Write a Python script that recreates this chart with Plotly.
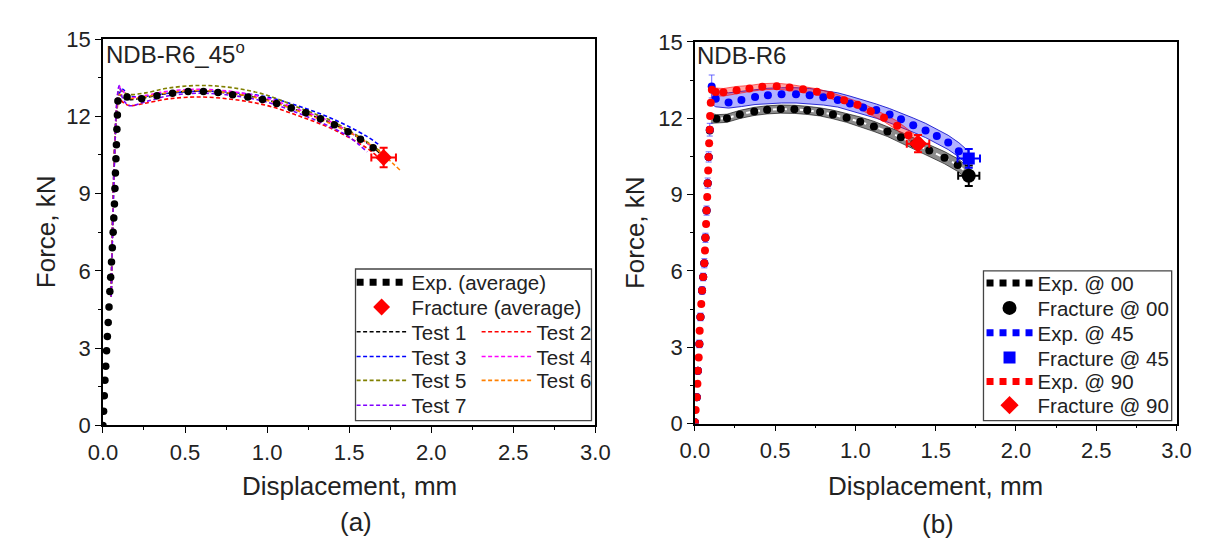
import plotly.graph_objects as go

W, H = 1205, 543
FONT = "Liberation Sans, Arial, sans-serif"

# ---------------- Panel (a) data ----------------
avg_a_x = [0.0, 0.004, 0.008, 0.012, 0.017, 0.022, 0.027, 0.032, 0.037, 0.042, 0.047, 0.052, 0.057, 0.062,
           0.066, 0.070, 0.073, 0.076, 0.079, 0.082, 0.085, 0.088, 0.091, 0.147, 0.236, 0.329, 0.424, 0.519,
           0.612, 0.701, 0.790, 0.883, 0.972, 1.058, 1.147, 1.236, 1.325, 1.410, 1.493, 1.569, 1.646]
avg_a_y = [0.0, 0.55, 1.15, 1.75, 2.3, 2.9, 3.45, 4.0, 4.6, 5.2, 5.75, 6.35, 6.9, 7.5,
           8.05, 8.6, 9.2, 9.8, 10.35, 10.9, 11.5, 12.05, 12.6, 12.75, 12.68, 12.8, 12.9, 12.96,
           12.96, 12.93, 12.84, 12.75, 12.65, 12.5, 12.32, 12.14, 11.91, 11.67, 11.4, 11.11, 10.78]

frac_a_x = [1.71]
frac_a_y = [10.4]
frac_a_ex = [0.075]
frac_a_ey = [0.38]

test_names = ["Test 1", "Test 2", "Test 3", "Test 4", "Test 5", "Test 6", "Test 7"]
test_colors = ["#000000", "#ff0000", "#0000ff", "#ff00ff", "#808000", "#ff8000", "#8000ff"]
test_x = [
    [0.05, 0.085, 0.10, 0.12, 0.16, 0.25, 0.40, 0.60, 0.80, 1.00, 1.20, 1.40, 1.60, 1.70],
    [0.05, 0.085, 0.10, 0.12, 0.16, 0.25, 0.40, 0.60, 0.80, 1.00, 1.20, 1.40, 1.60, 1.67],
    [0.05, 0.085, 0.10, 0.12, 0.16, 0.25, 0.40, 0.60, 0.80, 1.00, 1.20, 1.40, 1.60, 1.69],
    [0.05, 0.085, 0.10, 0.12, 0.16, 0.25, 0.40, 0.60, 0.80, 1.00, 1.20, 1.40, 1.60, 1.66],
    [0.05, 0.085, 0.10, 0.12, 0.16, 0.25, 0.40, 0.60, 0.80, 1.00, 1.20, 1.40, 1.60, 1.70],
    [0.05, 0.085, 0.10, 0.12, 0.16, 0.25, 0.40, 0.60, 0.80, 1.00, 1.20, 1.40, 1.60, 1.70, 1.82],
    [0.05, 0.085, 0.10, 0.12, 0.16, 0.25, 0.40, 0.60, 0.80, 1.00, 1.20, 1.40, 1.50, 1.61],
]
test_y = [
    [5.0, 12.4, 12.85, 12.75, 12.65, 12.72, 12.9, 12.98, 12.87, 12.64, 12.2, 11.72, 11.0, 10.5],
    [5.0, 12.2, 12.7, 12.55, 12.42, 12.5, 12.68, 12.75, 12.65, 12.42, 12.0, 11.5, 10.8, 10.45],
    [5.0, 12.3, 12.9, 13.05, 12.8, 12.78, 12.9, 12.98, 12.92, 12.75, 12.38, 11.9, 11.25, 10.86],
    [5.0, 12.6, 13.15, 13.0, 12.75, 12.8, 12.98, 13.05, 12.95, 12.7, 12.25, 11.75, 11.0, 10.7],
    [5.0, 12.5, 13.05, 12.95, 12.85, 12.9, 13.1, 13.2, 13.1, 12.82, 12.32, 11.8, 11.05, 10.6],
    [5.0, 12.3, 12.85, 12.8, 12.7, 12.75, 12.92, 13.0, 12.88, 12.62, 12.18, 11.68, 11.02, 10.55, 9.85],
    [5.0, 12.5, 13.2, 12.7, 12.42, 12.55, 12.8, 12.9, 12.8, 12.55, 12.1, 11.55, 11.2, 10.62],
]

# ---------------- Panel (b) data ----------------
exp00_x = [0.0, 0.012, 0.019, 0.028, 0.035, 0.045, 0.052, 0.059, 0.066, 0.073, 0.080, 0.086, 0.093,
           0.135, 0.20, 0.28, 0.37, 0.45, 0.535, 0.62, 0.70, 0.78, 0.86, 0.945, 1.03,
           1.115, 1.20, 1.283, 1.366, 1.46, 1.555, 1.637]
exp00_y = [0.05, 1.03, 2.07, 3.13, 4.19, 5.23, 5.76, 6.3, 7.3, 8.37, 9.45, 10.48, 11.52,
           11.98, 12.0, 12.15, 12.27, 12.33, 12.36, 12.35, 12.31, 12.25, 12.15, 12.02, 11.86,
           11.68, 11.48, 11.25, 11.0, 10.73, 10.45, 10.16]
band00_x = [0.10, 0.135, 0.20, 0.28, 0.37, 0.45, 0.535, 0.62, 0.70, 0.78, 0.86, 0.945, 1.03,
            1.115, 1.20, 1.283, 1.366, 1.46, 1.555, 1.637, 1.70]
band00_y = [12.0, 11.98, 12.0, 12.15, 12.27, 12.33, 12.36, 12.35, 12.31, 12.25, 12.15, 12.02, 11.86,
            11.68, 11.48, 11.25, 11.0, 10.73, 10.45, 10.16, 9.85]
band00_s = [0.2, 0.16, 0.16, 0.16, 0.16, 0.16, 0.16, 0.16, 0.16, 0.16, 0.17, 0.18, 0.19,
            0.2, 0.2, 0.21, 0.22, 0.23, 0.24, 0.25, 0.25]

exp45_x = [0.0, 0.012, 0.019, 0.028, 0.035, 0.045, 0.052, 0.059, 0.066, 0.073, 0.080, 0.086, 0.093, 0.105,
           0.13, 0.21, 0.29, 0.375, 0.455, 0.54, 0.63, 0.715, 0.80, 0.89, 0.966, 1.048,
           1.13, 1.213, 1.284, 1.36, 1.437, 1.507, 1.578, 1.644]
exp45_y = [0.05, 1.03, 2.07, 3.13, 4.19, 5.23, 5.76, 6.3, 7.3, 8.37, 9.45, 10.48, 11.55, 13.25,
           12.77, 12.62, 12.72, 12.84, 12.9, 12.94, 12.94, 12.9, 12.83, 12.72, 12.58, 12.42,
           12.32, 12.15, 11.96, 11.73, 11.52, 11.3, 11.05, 10.7]
exp45_ey = [0.0, 0.12, 0.12, 0.15, 0.15, 0.15, 0.15, 0.18, 0.18, 0.18, 0.2, 0.2, 0.25, 0.45,
            0, 0, 0, 0, 0, 0, 0, 0, 0, 0, 0, 0, 0, 0, 0, 0, 0, 0, 0, 0]
band45_x = [0.10, 0.13, 0.21, 0.29, 0.375, 0.455, 0.54, 0.63, 0.715, 0.80, 0.89, 0.966, 1.048,
            1.13, 1.213, 1.284, 1.36, 1.437, 1.507, 1.578, 1.644, 1.70]
band45_y = [12.9, 12.75, 12.7, 12.76, 12.84, 12.88, 12.9, 12.9, 12.87, 12.81, 12.72, 12.59, 12.44,
            12.28, 12.1, 11.93, 11.73, 11.52, 11.3, 11.05, 10.76, 10.45]
band45_s = [0.32, 0.3, 0.3, 0.3, 0.3, 0.3, 0.3, 0.3, 0.3, 0.29, 0.28, 0.28, 0.28,
            0.28, 0.28, 0.28, 0.28, 0.28, 0.28, 0.28, 0.28, 0.28]

exp90_x = [0.0, 0.005, 0.012, 0.016, 0.019, 0.024, 0.028, 0.030, 0.035, 0.040, 0.045, 0.052,
           0.059, 0.063, 0.066, 0.070, 0.073, 0.077, 0.080, 0.083, 0.086, 0.089, 0.093, 0.095,
           0.099, 0.106, 0.13, 0.178, 0.26, 0.34, 0.42, 0.51, 0.59, 0.674, 0.76, 0.845,
           0.93, 1.013, 1.096, 1.178, 1.26, 1.33]
exp90_y = [0.05, 0.53, 1.03, 1.56, 2.07, 2.6, 3.13, 3.65, 4.19, 4.7, 5.23, 5.76,
           6.3, 6.8, 7.3, 7.84, 8.37, 8.9, 9.45, 9.95, 10.48, 11.02, 11.55, 12.09,
           12.61, 13.12, 13.03, 13.02, 13.1, 13.17, 13.24, 13.26, 13.21, 13.14, 13.04, 12.9,
           12.71, 12.53, 12.28, 12.02, 11.71, 11.33]
band90_x = [0.10, 0.13, 0.178, 0.26, 0.34, 0.42, 0.51, 0.59, 0.674, 0.76, 0.845,
            0.93, 1.013, 1.096, 1.178, 1.26, 1.33, 1.40]
band90_y = [13.0, 13.03, 13.02, 13.1, 13.17, 13.24, 13.26, 13.21, 13.14, 13.04, 12.9,
            12.71, 12.53, 12.28, 12.02, 11.71, 11.35, 11.0]
band90_s = [0.2, 0.15, 0.15, 0.15, 0.12, 0.12, 0.12, 0.12, 0.12, 0.12, 0.12,
            0.13, 0.13, 0.15, 0.15, 0.18, 0.2, 0.2]

frac_b_x = [1.706, 1.706, 1.39]
frac_b_y = [9.74, 10.42, 11.0]
frac_b_ex = [0.066, 0.07, 0.07]
frac_b_ey = [0.4, 0.37, 0.34]
frac_b_names = ["Fracture @ 00", "Fracture @ 45", "Fracture @ 90"]
exp_b_names = ["Exp. @ 00", "Exp. @ 45", "Exp. @ 90"]
b_colors = ["#000000", "#0000ff", "#ff0000"]
frac_b_symbols = ["circle", "square", "diamond"]
frac_b_sizes = [14, 12, 14]

x_ticks = [0.0, 0.5, 1.0, 1.5, 2.0, 2.5, 3.0]
y_ticks = [0, 3, 6, 9, 12, 15]

fig = go.Figure()

# legend rows (pixel centre of each row)
rows_a = [275, 301, 327, 353, 378, 404]
rows_b = [276, 302, 328, 354, 379, 404]

# ---------- Panel (a) ----------
test_leg = ["legend3", "legend3", "legend4", "legend4", "legend5", "legend5", "legend6"]
for name, col, xs, ys, lg in zip(test_names, test_colors, test_x, test_y, test_leg):
    fig.add_trace(go.Scatter(x=xs, y=ys, mode="lines", name=name, legend=lg,
                             line=dict(color=col, width=1.6, dash="4px,2.5px", shape="spline"),
                             xaxis="x", yaxis="y"))

fig.add_trace(go.Scatter(x=avg_a_x, y=avg_a_y, mode="markers", showlegend=False,
                         marker=dict(color="black", size=7.5), xaxis="x", yaxis="y"))
fig.add_trace(go.Scatter(x=[None], y=[None], mode="lines", name="Exp. (average)", legend="legend",
                         line=dict(color="black", width=7, dash="7px,6px"), xaxis="x", yaxis="y"))
fig.add_trace(go.Scatter(x=frac_a_x, y=frac_a_y, mode="markers", name="Fracture (average)", legend="legend2",
                         marker=dict(color="#ff0000", size=13, symbol="diamond"),
                         error_x=dict(type="data", array=frac_a_ex, color="#ff0000", thickness=2, width=4),
                         error_y=dict(type="data", array=frac_a_ey, color="#ff0000", thickness=2, width=4),
                         xaxis="x", yaxis="y"))

# ---------- Panel (b) ----------
band_fill = ["rgba(0,0,0,0.45)", "rgba(0,0,255,0.3)", "rgba(255,0,0,0.35)"]
band_line = ["rgba(0,0,0,0.6)", "rgba(0,0,200,0.8)", "rgba(255,0,0,0.6)"]
for bx, by, bs, fc, lc in zip([band00_x, band45_x, band90_x], [band00_y, band45_y, band90_y],
                              [band00_s, band45_s, band90_s], band_fill, band_line):
    up = [v + s for v, s in zip(by, bs)]
    lo = [v - s for v, s in zip(by, bs)]
    fig.add_trace(go.Scatter(x=bx + bx[::-1], y=up + lo[::-1], mode="lines", fill="toself",
                             fillcolor=fc, line=dict(color=lc, width=1), showlegend=False,
                             hoverinfo="skip", xaxis="x2", yaxis="y2"))

fig.add_trace(go.Scatter(x=band00_x, y=band00_y, mode="lines", showlegend=False,
                         line=dict(color="white", width=2, dash="5px,4px"), xaxis="x2", yaxis="y2"))

exp_b = [(exp00_x, exp00_y, None), (exp45_x, exp45_y, exp45_ey), (exp90_x, exp90_y, None)]
for i, (xs, ys, ey) in enumerate(exp_b):
    kw = {}
    if ey is not None:
        kw["error_y"] = dict(type="data", array=ey, color="rgba(60,60,255,0.75)", thickness=1, width=3)
    fig.add_trace(go.Scatter(x=xs, y=ys, mode="markers", showlegend=False,
                             marker=dict(color=b_colors[i], size=8), xaxis="x2", yaxis="y2", **kw))

for i in range(3):
    col = b_colors[i]
    fig.add_trace(go.Scatter(x=[None], y=[None], mode="lines", name=exp_b_names[i], legend=f"legend{7 + 2 * i}",
                             line=dict(color=col, width=7, dash="7px,6px"), xaxis="x2", yaxis="y2"))
    fig.add_trace(go.Scatter(x=[frac_b_x[i]], y=[frac_b_y[i]], mode="markers", name=frac_b_names[i],
                             legend=f"legend{8 + 2 * i}",
                             marker=dict(color=col, size=frac_b_sizes[i], symbol=frac_b_symbols[i]),
                             error_x=dict(type="data", array=[frac_b_ex[i]], color=col, thickness=2, width=4),
                             error_y=dict(type="data", array=[frac_b_ey[i]], color=col, thickness=2, width=4),
                             xaxis="x2", yaxis="y2"))

# ---------- Axes ----------
TICKFONT = dict(family=FONT, size=22, color="#222")

def xax(domain, anchor):
    return dict(domain=domain, anchor=anchor, range=[0, 3], tickvals=x_ticks,
                ticktext=[f"{v:.1f}" for v in x_ticks], ticks="outside", ticklen=6, tickwidth=1.3,
                tickcolor="black", showline=True, linecolor="black", linewidth=1.5, mirror=True,
                showgrid=False, zeroline=False, tickfont=TICKFONT,
                minor=dict(dtick=0.25, tick0=0, ticks="outside", ticklen=3, tickcolor="black", showgrid=False))

def yax(domain, anchor):
    return dict(domain=domain, anchor=anchor, range=[0, 15], tickvals=y_ticks,
                ticks="outside", ticklen=6, tickwidth=1.3, tickcolor="black", showline=True,
                linecolor="black", linewidth=1.5, mirror=True, showgrid=False, zeroline=False,
                tickfont=TICKFONT,
                minor=dict(dtick=1.5, tick0=0, ticks="outside", ticklen=3, tickcolor="black", showgrid=False))

def leg(xpx, ypx, iw, horizontal=False):
    d = dict(x=xpx / W, y=1 - ypx / H, xanchor="left", yanchor="middle", bgcolor="rgba(0,0,0,0)",
             borderwidth=0, font=dict(family=FONT, size=20.5, color="#222"), tracegroupgap=0,
             traceorder="normal", itemwidth=iw)
    if horizontal:
        d.update(orientation="h", entrywidth=60, entrywidthmode="pixels")
    return d

legends = {}
legends["legend"] = leg(337, rows_a[0], 50)
legends["legend2"] = leg(337, rows_a[1], 50)
legends["legend3"] = leg(337, rows_a[2], 50, True)
legends["legend4"] = leg(337, rows_a[3], 50, True)
legends["legend5"] = leg(337, rows_a[4], 50, True)
legends["legend6"] = leg(337, rows_a[5], 50, True)
for k in range(6):
    legends[f"legend{7 + k}"] = leg(983, rows_b[k], 46)

def ann(text, xpx, ypx, size, angle=0, xanchor="center"):
    return dict(text=text, x=xpx / W, y=1 - ypx / H, xref="paper", yref="paper", xanchor=xanchor,
                yanchor="middle", textangle=angle, showarrow=False,
                font=dict(family=FONT, size=size, color="#222"))

fig.update_layout(
    width=W, height=H, margin=dict(l=0, r=0, t=0, b=0),
    paper_bgcolor="white", plot_bgcolor="white",
    font=dict(family=FONT, color="#222"),
    xaxis=xax([82 / W, 587 / W], "y"),
    yaxis=yax([(H - 425) / H, (H - 20) / H], "x"),
    xaxis2=xax([689 / W, 1183 / W], "y2"),
    yaxis2=yax([(H - 423) / H, (H - 23) / H], "x2"),
    showlegend=True,
    shapes=[
        dict(type="rect", xref="paper", yref="paper", x0=341 / W, x1=583 / W, y0=1 - 420 / H, y1=1 - 261 / H,
             line=dict(color="#444", width=1.3)),
        dict(type="rect", xref="paper", yref="paper", x0=985 / W, x1=1178 / W, y0=1 - 420 / H, y1=1 - 263 / H,
             line=dict(color="#444", width=1.3)),
    ],
    annotations=[
        ann("NDB-R6_45<sup>o</sup>", 83, 35, 24, xanchor="left"),
        ann("NDB-R6", 689, 37, 24, xanchor="left"),
        ann("Force, kN", 23, 222, 26, angle=-90),
        ann("Force, kN", 627, 223, 26, angle=-90),
        ann("Displacement, mm", 335, 489, 26),
        ann("Displacement, mm", 936, 488, 26),
        ann("(a)", 342, 526, 26),
        ann("(b)", 938, 528, 26),
    ],
    **legends,
)

fig.write_html("out.html")
